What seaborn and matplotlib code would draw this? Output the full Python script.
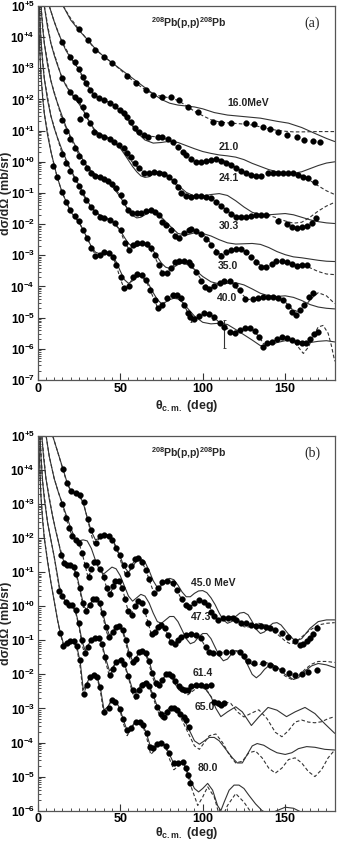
import numpy as np
import matplotlib
matplotlib.use("Agg")
import matplotlib.pyplot as plt
import matplotlib.ticker as mticker
import seaborn as sns

# all cross sections are given as log10(dsigma/dOmega [mb/sr]) incl. the offsets

# ---------------- panel (a) ----------------
a16_dat_x = [24.8, 30.2, 34.9, 40.0, 45.1, 54.3, 59.3, 65.4, 70.1, 75.6, 80.7, 85.7, 90.9, 97.0,
             106.1, 111.2, 117.3, 126.4, 131.3, 136.6, 140.6, 145.7, 150.8, 156.9, 161.6, 167.1, 171.1]
a16_dat_y = [4.25, 3.91, 3.59, 3.37, 3.18, 2.75, 2.52, 2.31, 2.14, 2.09, 2.07, 1.98, 1.77, 1.61,
             1.29, 1.26, 1.24, 1.24, 1.21, 1.13, 1.04, 0.97, 0.86, 0.79, 0.70, 0.68, 0.65]
a16_sol_x = [15.4, 20, 25, 30, 35, 40, 45, 50, 55, 60, 65, 70, 75, 80, 85, 90, 95, 100, 107, 115,
             125, 135, 145, 152, 160, 168, 175, 180]
a16_sol_y = [5.0, 4.55, 4.22, 3.93, 3.62, 3.38, 3.18, 2.98, 2.78, 2.58, 2.38, 2.18, 2.0, 1.88, 1.82,
             1.79, 1.76, 1.70, 1.58, 1.50, 1.45, 1.40, 1.30, 1.24, 1.10, 0.91, 0.75, 0.65]
a16_das_x = [15.4, 20, 25, 30, 35, 40, 45, 50, 55, 60, 65, 70, 75, 80, 85, 90, 95, 100, 105, 110,
             115, 120, 125, 130, 135, 140, 145, 150, 155, 160, 170, 180]
a16_das_y = [5.0, 4.6, 4.25, 3.92, 3.60, 3.38, 3.18, 2.96, 2.72, 2.50, 2.32, 2.17, 2.10, 2.05, 1.97,
             1.80, 1.62, 1.48, 1.35, 1.28, 1.25, 1.23, 1.21, 1.18, 1.12, 1.06, 1.01, 0.98, 0.96,
             0.96, 0.97, 0.97]

a21_dat_x = [14.6, 19.7, 22.3, 24.8, 27.4, 29.5, 31.5, 34.3, 37.0, 40.4, 44.1, 47.1, 49.8, 52.2,
             54.3, 56.3, 58.7, 61.3, 64.4, 66.8, 72.9, 75.6, 78.7, 81.7, 84.8, 87.8, 89.8, 92.9,
             95.9, 99.0, 102.0, 105.1, 108.1, 111.2, 114.2, 117.3, 120.3, 123.4, 126.4, 129.5,
             132.5, 135.6, 139.6, 142.7, 145.7, 148.8, 151.8, 154.9, 157.9, 161.0, 164.0, 168.0]
a21_dat_y = [3.86, 3.37, 3.21, 2.97, 2.73, 2.54, 2.31, 2.14, 2.04, 1.98, 1.88, 1.79, 1.66, 1.56,
             1.43, 1.29, 1.08, 0.97, 0.86, 0.81, 0.81, 0.79, 0.72, 0.65, 0.49, 0.33, 0.22, 0.08,
             0.0, 0.0, 0.04, 0.06, 0.08, 0.04, -0.03, -0.10, -0.21, -0.28, -0.35, -0.42,
             -0.45, -0.44, -0.35, -0.37, -0.37, -0.35, -0.35, -0.37, -0.42, -0.48, -0.53, -0.64]
a21_sol_x = [7, 10, 12, 14.6, 17, 20, 22.5, 25, 27.5, 30, 32.5, 35, 37.5, 40, 42.5, 45, 47.5, 50,
             52.5, 55, 57.5, 60, 65, 70, 75, 80, 85, 90, 95, 100, 105, 110, 115, 120, 125, 130,
             135, 140, 145, 150, 155, 160, 165, 170, 175, 180]
a21_sol_y = [5.0, 4.5, 4.2, 3.87, 3.58, 3.33, 3.16, 2.96, 2.72, 2.48, 2.26, 2.12, 2.04, 1.98, 1.93,
             1.86, 1.76, 1.62, 1.47, 1.32, 1.14, 0.95, 0.70, 0.60, 0.62, 0.66, 0.62, 0.52, 0.42,
             0.33, 0.27, 0.22, 0.19, 0.15, 0.07, -0.05, -0.15, -0.25, -0.32, -0.36, -0.37, -0.32,
             -0.22, -0.12, -0.04, 0.0]
a21_das_x = [7, 10, 14.6, 20, 25, 30, 35, 40, 45, 50, 55, 60, 65, 70, 75, 80, 85, 90, 95, 100, 105,
             110, 115, 120, 125, 130, 135, 140, 145, 150, 155, 160, 165, 170, 175, 180]
a21_das_y = [5.0, 4.5, 3.86, 3.35, 2.95, 2.4, 2.1, 1.98, 1.86, 1.64, 1.38, 0.98, 0.84, 0.81, 0.79,
             0.68, 0.45, 0.20, 0.03, 0.0, 0.05, 0.07, 0.0, -0.18, -0.33, -0.42, -0.44, -0.40,
             -0.37, -0.36, -0.38, -0.45, -0.60, -0.77, -0.93, -1.05]

a24_dat_x = [14.6, 19.7, 22.3, 24.8, 25.8, 27.4, 29.5, 31.9, 34.3, 37.0, 40.4, 43.7, 46.5, 49.1,
             52.2, 54.3, 56.3, 58.7, 61.3, 64.4, 67.4, 70.5, 73.5, 76.6, 79.6, 82.7, 84.8, 86.8,
             89.8, 92.9, 96.0, 99.0, 102.0, 105.1, 108.1, 111.2, 114.2, 117.3, 120.3, 123.4,
             126.4, 129.5, 132.5, 135.6, 138.6, 145.7, 150.8, 153.9, 156.9, 160.0, 163.0, 166.1, 168.5]
a24_dat_y = [2.68, 2.25, 2.09, 1.98, 1.37, 1.75, 1.50, 1.24, 0.97, 0.86, 0.81, 0.72, 0.65, 0.54,
             0.43, 0.27, 0.15, -0.05, -0.21, -0.35, -0.35, -0.33, -0.35, -0.39, -0.48, -0.62, -0.82,
             -1.0, -1.10, -1.12, -1.10, -1.10, -1.12, -1.17, -1.28, -1.42, -1.55, -1.67, -1.76,
             -1.78, -1.76, -1.74, -1.71, -1.71, -1.71, -1.90, -2.0, -2.10, -2.11, -2.10, -2.06,
             -1.95, -1.81]
a24_sol_x = [4, 6, 8, 10, 12, 14.6, 17, 20, 22.5, 25, 27.5, 30, 32.5, 35, 37.5, 40, 42.5, 45, 47.5,
             50, 52.5, 55, 57.5, 60, 62.5, 65, 67.5, 70, 72.5, 75, 77.5, 80, 85, 90, 95, 100, 105,
             110, 115, 120, 125, 130, 135, 140, 145, 150, 155, 160, 165, 170, 175, 180]
a24_sol_y = [5.0, 4.3, 3.8, 3.42, 3.1, 2.72, 2.45, 2.2, 2.03, 1.86, 1.66, 1.42, 1.18, 1.0, 0.9,
             0.84, 0.78, 0.70, 0.58, 0.44, 0.25, 0.05, -0.15, -0.32, -0.45, -0.50, -0.48, -0.40,
             -0.33, -0.32, -0.38, -0.50, -0.75, -0.98, -1.10, -1.10, -1.05, -1.02, -1.08, -1.25,
             -1.45, -1.62, -1.70, -1.70, -1.68, -1.66, -1.70, -1.78, -1.86, -1.92, -1.96, -1.98]
a24_das_x = [4, 8, 14.6, 20, 25, 30, 35, 40, 45, 50, 55, 60, 65, 70, 75, 80, 85, 90, 95, 100, 105,
             110, 115, 120, 125, 130, 135, 140, 145, 150, 155, 160, 165, 170, 175, 180]
a24_das_y = [5.0, 3.8, 2.7, 2.22, 1.95, 1.4, 0.95, 0.82, 0.68, 0.46, 0.12, -0.15, -0.36, -0.34,
             -0.36, -0.5, -0.82, -1.06, -1.1, -1.1, -1.14, -1.35, -1.58, -1.74, -1.77, -1.73,
             -1.70, -1.72, -1.80, -1.90, -1.97, -1.94, -1.78, -1.58, -1.42, -1.30]

a30_dat_x = [14.6, 17.3, 19.7, 22.3, 24.8, 27.4, 29.9, 32.3, 34.9, 37.6, 40.0, 42.5, 45.0, 47.5,
             50.2, 52.2, 54.6, 57.3, 59.9, 62.4, 65.4, 68.5, 70.9, 73.6, 75.6, 77.6, 80.7, 83.1,
             85.7, 88.8, 91.8, 92.9, 96.0, 99.0, 102.0, 105.1, 108.1, 111.2, 114.2, 117.3, 120.3,
             123.4, 126.4, 129.5, 132.5, 135.6, 138.6, 141.7, 144.7, 147.8, 150.8, 153.9, 156.9,
             160.0, 163.0]
a30_dat_y = [1.35, 1.0, 0.72, 0.45, 0.2, -0.02, -0.2, -0.35, -0.45, -0.5, -0.55, -0.62, -0.72,
             -0.85, -1.06, -1.28, -1.55, -1.63, -1.65, -1.63, -1.57, -1.55, -1.60, -1.71, -1.92,
             -2.03, -2.19, -2.38, -2.43, -2.30, -2.20, -2.17, -2.21, -2.32, -2.49, -2.67, -2.88,
             -3.02, -2.91, -2.83, -2.79, -2.81, -2.91, -3.07, -3.23, -3.38, -3.36, -3.28, -3.19,
             -3.18, -3.21, -3.28, -3.33, -3.32, -3.31]
a30_sol_x = [2, 3, 4, 6, 8, 10, 12, 14.6, 17, 20, 22.5, 25, 27.5, 30, 32.5, 35, 37.5, 40, 42.5, 45,
             47.5, 50, 52.5, 55, 57.5, 60, 62.5, 65, 67.5, 70, 72.5, 75, 80, 85, 90, 95, 100, 105,
             110, 115, 120, 125, 130, 135, 140, 145, 150, 155, 160, 165, 170, 175, 180]
a30_sol_y = [5.0, 4.3, 3.8, 3.1, 2.6, 2.2, 1.88, 1.5, 1.15, 0.8, 0.55, 0.3, 0.05, -0.15, -0.3, -0.4,
             -0.47, -0.55, -0.65, -0.78, -0.95, -1.12, -1.35, -1.55, -1.72, -1.80, -1.78, -1.70,
             -1.62, -1.60, -1.65, -1.78, -2.05, -2.3, -2.35, -2.28, -2.30, -2.38, -2.5, -2.6, -2.64,
             -2.63, -2.62, -2.65, -2.75, -2.88, -2.98, -3.05, -3.08, -3.12, -3.16, -3.19, -3.2]
a30_das_x = [2, 4, 8, 14.6, 20, 25, 30, 35, 40, 45, 50, 55, 60, 65, 70, 75, 80, 85, 90, 95, 100,
             105, 110, 115, 120, 125, 130, 135, 140, 145, 150, 155, 160, 165, 170, 175, 180]
a30_das_y = [5.0, 3.8, 2.6, 1.4, 0.75, 0.22, -0.2, -0.45, -0.55, -0.72, -1.08, -1.58, -1.66, -1.6,
             -1.56, -1.8, -2.18, -2.42, -2.28, -2.2, -2.3, -2.62, -2.95, -2.92, -2.8, -2.85, -3.05,
             -3.32, -3.35, -3.22, -3.2, -3.28, -3.3, -3.4, -3.52, -3.6, -3.62]

a35_dat_x = [14.6, 17.3, 19.7, 22.3, 24.8, 26.8, 29.4, 32.3, 34.9, 38.0, 40.4, 44.1, 47.1, 50.2,
             52.8, 55.3, 57.9, 60.3, 63.4, 66.0, 68.5, 70.9, 73.6, 75.6, 78.2, 80.7, 83.1, 85.7,
             88.8, 91.8, 92.9, 96.0, 99.0, 101.4, 104.1, 107.1, 110.2, 113.2, 116.3, 119.3, 122.4,
             125.4, 130.5, 133.5, 136.6, 139.6, 142.7, 145.7, 148.8, 151.4, 153.9, 156.3, 159.0,
             161.6, 164.4, 167.1]
a35_dat_y = [0.25, -0.05, -0.3, -0.55, -0.78, -0.96, -1.22, -1.44, -1.60, -1.76, -1.81, -1.87,
             -1.97, -2.19, -2.61, -2.83, -2.67, -2.61, -2.59, -2.65, -2.78, -2.99, -3.31, -3.56,
             -3.56, -3.42, -3.23, -3.17, -3.17, -3.23, -3.31, -3.52, -3.81, -4.03, -4.09, -4.0,
             -3.90, -3.81, -3.84, -3.95, -4.11, -4.41, -4.41, -4.38, -4.35, -4.35, -4.35, -4.38,
             -4.45, -4.63, -4.81, -4.91, -4.77, -4.59, -4.33, -4.20]
a35_sol_x = [1.05, 1.5, 2, 3, 4, 6, 8, 10, 12, 14.6, 17, 20, 22.5, 25, 27.5, 30, 32.5, 35, 37.5,
             40, 42.5, 45, 47.5, 50, 52.5, 55, 57.5, 60, 62.5, 65, 67.5, 70, 72.5, 75, 77.5, 80,
             82.5, 85, 87.5, 90, 95, 100, 105, 110, 115, 120, 125, 130, 135, 140, 145, 150, 155,
             160, 165, 170, 175, 180]
a35_sol_y = [5.0, 4.38, 3.88, 3.17, 2.67, 1.97, 1.47, 1.08, 0.77, 0.4, 0.1, -0.25, -0.5, -0.75,
             -1.0, -1.25, -1.45, -1.6, -1.7, -1.76, -1.82, -1.9, -2.02, -2.2, -2.42, -2.62, -2.72,
             -2.72, -2.66, -2.64, -2.7, -2.85, -3.05, -3.25, -3.38, -3.42, -3.38, -3.3, -3.25,
             -3.28, -3.45, -3.68, -3.85, -3.92, -3.9, -3.88, -3.95, -4.08, -4.22, -4.3, -4.32,
             -4.3, -4.35, -4.45, -4.58, -4.66, -4.7, -4.72]
a35_das_x = [1.05, 2, 4, 8, 14.6, 20, 25, 30, 35, 40, 45, 50, 52.5, 55, 57.5, 60, 65, 70, 75, 77.5,
             80, 85, 90, 95, 100, 104, 108, 113, 118, 123, 127, 132, 137, 142, 146, 150, 154, 158,
             162, 166, 170, 175, 180]
a35_das_y = [5.0, 3.88, 2.67, 1.47, 0.3, -0.28, -0.8, -1.3, -1.62, -1.8, -1.9, -2.2, -2.55, -2.78,
             -2.72, -2.62, -2.62, -2.95, -3.5, -3.6, -3.45, -3.18, -3.18, -3.45, -3.85, -4.06,
             -3.98, -3.82, -3.9, -4.2, -4.42, -4.4, -4.36, -4.35, -4.38, -4.5, -4.72, -4.82, -4.62,
             -4.38, -4.2, -4.3, -4.55]

a40_dat_x = [9.5, 11.6, 14.6, 17.3, 19.7, 22.3, 24.8, 27.4, 29.9, 32.3, 34.9, 37.6, 40.0, 43.1,
             45.7, 47.7, 50.2, 52.6, 55.3, 57.9, 60.3, 63.0, 65.4, 68.1, 70.9, 72.9, 75.6, 78.6,
             81.7, 84.7, 86.8, 88.4, 90.8, 92.5, 94.9, 98.0, 101.0, 104.1, 107.1, 110.2, 113.2,
             116.3, 119.3, 122.4, 125.4, 128.5, 131.5, 134.0, 136.6, 139.2, 142.1, 145.1, 147.8,
             150.8, 153.9, 156.9, 160.0, 162.4, 165.1, 167.7, 170.1]
a40_dat_y = [-0.12, -0.48, -0.96, -1.28, -1.55, -1.74, -1.89, -2.19, -2.45, -2.78, -3.02, -2.99,
             -2.91, -2.94, -3.04, -3.31, -3.71, -4.06, -4.0, -3.71, -3.6, -3.63, -3.79, -4.11,
             -4.43, -4.70, -4.59, -4.38, -4.27, -4.27, -4.38, -4.59, -4.84, -4.98, -5.05, -4.95,
             -4.86, -4.88, -4.99, -5.16, -5.31, -5.45, -5.48, -5.40, -5.34, -5.34, -5.42, -5.61,
             -5.95, -5.82, -5.77, -5.70, -5.63, -5.65, -5.72, -5.78, -5.82, -5.80, -5.70, -5.52,
             -5.46]
a40_sol_x = [0.55, 0.8, 1, 1.5, 2, 3, 4, 6, 8, 9.5, 11.6, 14.6, 17, 20, 22.5, 25, 27.5, 30, 32.5,
             35, 37.5, 40, 42.5, 45, 47.5, 50, 52.5, 55, 57.5, 60, 62.5, 65, 67.5, 70, 72.5, 75,
             77.5, 80, 82.5, 85, 87.5, 90, 95, 100, 105, 110, 115, 120, 125, 130, 135, 140, 145,
             150, 155, 160, 165, 170, 175, 180]
a40_sol_y = [5.0, 4.35, 3.95, 3.25, 2.75, 2.05, 1.55, 0.85, 0.33, 0.0, -0.45, -0.95, -1.25, -1.6,
             -1.78, -1.95, -2.18, -2.45, -2.72, -2.9, -2.95, -2.92, -2.92, -3.0, -3.2, -3.5, -3.78,
             -3.9, -3.82, -3.7, -3.67, -3.75, -3.95, -4.2, -4.42, -4.55, -4.5, -4.42, -4.38, -4.4,
             -4.5, -4.65, -4.95, -5.15, -5.2, -5.18, -5.22, -5.38, -5.55, -5.72, -5.9, -5.88,
             -5.8, -5.74, -5.74, -5.78, -5.8, -5.76, -5.74, -5.78]
a40_das_x = [0.55, 1, 2, 4, 8, 11.6, 14.6, 20, 25, 30, 35, 37.5, 40, 45, 47.5, 50, 52.5, 55, 58,
             62, 66, 70, 73, 76, 80, 84, 87, 91, 95, 98, 102, 106, 110, 114, 118, 122, 126, 130,
             134, 137, 140, 145, 150, 155, 158, 161, 164, 167, 170, 173, 176, 178, 180]
a40_das_y = [5.0, 3.95, 2.75, 1.55, 0.33, -0.45, -0.96, -1.6, -1.92, -2.45, -3.0, -3.02, -2.92,
             -3.0, -3.3, -3.75, -4.08, -3.98, -3.68, -3.65, -3.85, -4.35, -4.72, -4.6, -4.32,
             -4.25, -4.38, -4.85, -5.05, -4.95, -4.85, -4.95, -5.15, -5.32, -5.45, -5.42, -5.35,
             -5.38, -5.6, -5.85, -5.82, -5.7, -5.65, -5.75, -5.95, -6.15, -5.95, -5.6, -5.3,
             -5.25, -5.5, -5.9, -6.4]
a40_err_x = [92.9, 106.1, 113.2]
a40_err_lo = [-5.13, -5.07, -5.98]
a40_err_hi = [-4.88, -4.91, -5.07]

# ---------------- panel (b) ----------------
b45_dat_x = [15.2, 17.7, 20.1, 23.0, 25.4, 27.8, 30.3, 32.5, 35.1, 38.0, 40.4, 43.1, 45.3, 47.3,
             49.8, 52.2, 54.2, 56.7, 58.7, 60.7, 63.4, 65.4, 67.5, 70.5, 73.0, 75.6, 78.6, 81.7,
             84.7, 87.5, 89.8, 91.9, 94.9, 98.0, 101.0, 103.0, 105.1, 107.1, 109.2, 112.2, 115.3,
             118.3, 120.3, 123.4, 126.5, 129.5, 132.5, 135.6, 138.6, 141.0, 143.7, 147.8, 151.8,
             155.9, 159.0, 161.0, 163.0, 165.0, 167.0, 169.0]
b45_dat_y = [4.02, 3.63, 3.37, 3.33, 3.28, 3.05, 2.55, 2.25, 1.85, 2.06, 2.10, 2.06, 1.95, 1.72,
             1.50, 1.22, 0.95, 1.18, 1.40, 1.41, 1.30, 1.07, 0.80, 0.40, 0.55, 0.72, 0.75, 0.68,
             0.48, 0.20, 0.04, -0.01, 0.09, 0.17, 0.14, 0.04, -0.16, -0.30, -0.40, -0.35, -0.35,
             -0.35, -0.40, -0.48, -0.50, -0.55, -0.57, -0.58, -0.60, -0.65, -0.71, -0.79, -0.89,
             -1.01, -1.14, -1.11, -1.03, -0.94, -0.80, -0.65]
b45_sol_x = [9.1, 12, 15.2, 17.7, 20, 22.5, 25, 27.5, 30, 32.5, 35, 37.5, 40, 42.5, 45, 47.5, 50,
             52.5, 55, 57.5, 60, 62.5, 65, 67.5, 70, 72.5, 75, 77.5, 80, 82.5, 85, 87.5, 90, 92.5,
             95, 97.5, 100, 102.5, 105, 107.5, 110, 112.5, 115, 117.5, 120, 122.5, 125, 127.5,
             130, 132.5, 135, 137.5, 140, 142.5, 145, 147.5, 150, 152.5, 155, 157.5, 160, 162.5,
             165, 170, 175, 180]
b45_sol_y = [5.0, 4.55, 4.05, 3.65, 3.4, 3.3, 3.25, 3.05, 2.6, 2.2, 1.95, 2.0, 2.1, 2.1, 2.0, 1.75,
             1.45, 1.15, 1.0, 1.15, 1.35, 1.4, 1.3, 1.05, 0.75, 0.55, 0.6, 0.75, 0.82, 0.78, 0.62,
             0.42, 0.28, 0.28, 0.38, 0.45, 0.46, 0.4, 0.25, 0.05, -0.2, -0.4, -0.5, -0.45, -0.3,
             -0.2, -0.18, -0.25, -0.45, -0.68, -0.8, -0.75, -0.6, -0.5, -0.48, -0.55, -0.7,
             -0.85, -0.97, -1.0, -0.95, -0.8, -0.65, -0.45, -0.4, -0.4]
b45_das_x = [9.1, 12, 15.2, 17.7, 20, 22.5, 25, 27.5, 30, 32.5, 34.5, 36, 38, 40.5, 43, 45.5, 48,
             50.5, 53, 54.5, 56.5, 59, 61, 63.5, 66, 68.5, 70.5, 72.5, 75, 78, 81, 84, 87, 89.5,
             92, 95, 98, 101, 104, 107, 109.5, 112, 116, 119, 122, 125, 127, 130, 134, 138, 142,
             146, 150, 153, 156, 160, 165, 170, 175, 180]
b45_das_y = [5.0, 4.55, 4.03, 3.63, 3.38, 3.32, 3.28, 3.08, 2.6, 2.1, 1.78, 1.9, 2.05, 2.1, 2.06,
             1.93, 1.65, 1.3, 0.95, 0.9, 1.15, 1.38, 1.4, 1.28, 1.0, 0.65, 0.38, 0.45, 0.68, 0.76,
             0.7, 0.5, 0.22, 0.02, -0.02, 0.08, 0.16, 0.14, 0.0, -0.3, -0.42, -0.38, -0.3, -0.3,
             -0.42, -0.6, -0.62, -0.56, -0.5, -0.55, -0.68, -0.85, -1.02, -1.1, -1.07, -0.9,
             -0.7, -0.55, -0.5, -0.48]

b47_dat_x = [15, 17, 19, 21, 23, 25, 27, 29, 31, 32.5, 34, 36, 38, 40, 42, 44, 45.5, 47, 49, 51,
             53, 55, 57, 59, 61, 63, 65, 67, 69, 71, 73, 75, 77, 79, 81, 83, 85, 87, 89.8, 92.9,
             96, 99, 102, 104, 106.1, 110, 114, 118, 122.4, 125, 127.5, 131, 136.6, 141, 144,
             147.8, 152, 155.9, 160, 164, 169]
b47_dat_y = [3.0, 2.6, 2.3, 2.05, 1.95, 1.85, 1.55, 1.2, 0.85, 1.1, 1.3, 1.3, 1.1, 0.85, 0.55,
             0.35, 0.6, 0.75, 0.75, 0.55, 0.2, -0.15, -0.25, 0.0, 0.15, 0.1, -0.15, -0.5, -0.8,
             -0.75, -0.6, -0.55, -0.65, -0.85, -1.05, -1.1, -1.0, -0.9, -0.85, -0.8, -0.84,
             -0.94, -1.2, -1.35, -1.38, -1.36, -1.34, -1.33, -1.33, -1.45, -1.6, -1.66, -1.67,
             -1.72, -1.8, -1.87, -1.96, -2.02, -1.98, -1.93, -1.87]
b47_sol_x = [5.1, 7, 10, 12.5, 15, 17.5, 20, 22.5, 25, 27.5, 30, 32.5, 35, 37.5, 40, 42.5, 45,
             47.5, 50, 52.5, 55, 57.5, 60, 62.5, 65, 67.5, 70, 72.5, 75, 77.5, 80, 82.5, 85, 87.5,
             90, 92.5, 95, 97.5, 100, 102.5, 105, 107.5, 110, 112.5, 115, 117.5, 120, 122.5, 125,
             127.5, 130, 132.5, 135, 137.5, 140, 142.5, 145, 150, 155, 158, 162, 166, 170, 175, 180]
b47_sol_y = [5.0, 4.4, 3.75, 3.35, 3.0, 2.65, 2.3, 2.0, 1.92, 1.95, 1.92, 1.7, 1.35, 1.05, 0.95,
             1.05, 1.15, 1.1, 0.9, 0.6, 0.3, 0.15, 0.25, 0.35, 0.3, 0.1, -0.2, -0.45, -0.5, -0.4,
             -0.3, -0.3, -0.45, -0.7, -0.95, -1.1, -1.05, -0.9, -0.8, -0.8, -0.95, -1.2, -1.45,
             -1.6, -1.55, -1.4, -1.3, -1.32, -1.5, -1.75, -2.0, -2.1, -2.0, -1.85, -1.75, -1.72,
             -1.78, -2.0, -2.15, -2.1, -1.9, -1.75, -1.68, -1.72, -1.8]
b47_das_x = [5.1, 7, 10, 12.5, 15, 17, 19, 21, 23, 25, 27, 29, 30.5, 32.5, 34.5, 36, 38, 40, 42,
             43.5, 45.5, 47.5, 49.5, 51.5, 53.5, 55.5, 57, 59, 61, 63, 65, 67, 69, 71, 73, 75, 77,
             79, 81, 83, 85, 88, 91, 94, 97, 100, 103, 106, 110, 114, 118, 122, 126, 130, 134,
             138, 142, 146, 150, 154, 158, 162, 166, 170, 175, 180]
b47_das_y = [5.0, 4.4, 3.75, 3.35, 3.0, 2.62, 2.3, 2.05, 1.95, 1.85, 1.55, 1.15, 0.85, 1.05, 1.28,
             1.3, 1.12, 0.85, 0.5, 0.3, 0.55, 0.75, 0.72, 0.5, 0.1, -0.25, -0.2, 0.02, 0.12, 0.08,
             -0.15, -0.5, -0.85, -0.8, -0.6, -0.55, -0.65, -0.85, -1.1, -1.15, -1.0, -0.88, -0.8,
             -0.8, -0.88, -1.05, -1.3, -1.4, -1.38, -1.32, -1.3, -1.35, -1.55, -1.72, -1.72,
             -1.65, -1.7, -1.85, -2.05, -2.15, -2.05, -1.85, -1.7, -1.62, -1.62, -1.65]

b61_dat_x = [14, 16, 18, 19.7, 21.7, 23.5, 25.5, 27.5, 29.5, 31.5, 33.5, 35.5, 37.5, 39.5, 41.5,
             43.5, 45.5, 47.5, 49.5, 51.5, 53.5, 55.5, 57.5, 59.5, 61.5, 63.5, 65.5, 67.5, 69.5,
             71.5, 73.5, 75.5, 77.5, 79.5, 81.5, 83.5, 85.5, 87.5, 89.5, 90.9, 92.9, 96.0, 99.0,
             102.0, 105.1, 107.1, 109.2, 111.2, 113.2]
b61_dat_y = [1.5, 1.28, 1.2, 1.2, 1.16, 0.95, 0.55, 0.1, -0.15, 0.05, 0.2, 0.22, 0.1, -0.2, -0.6,
             -0.9, -0.75, -0.6, -0.58, -0.7, -1.0, -1.4, -1.65, -1.55, -1.35, -1.3, -1.38, -1.6,
             -1.95, -2.25, -2.3, -2.15, -2.0, -1.98, -2.05, -2.2, -2.35, -2.42, -2.46, -2.46,
             -2.34, -2.31, -2.31, -2.34, -2.31, -2.8, -2.85, -2.9, -2.85]
b61_sol_x = [2.5, 3.5, 5, 7, 9, 11, 13, 14, 16, 18, 20, 22, 24, 26, 28, 29.5, 31.5, 33.5, 35.5,
             37.5, 39.5, 41.5, 43.5, 45.5, 47.5, 49.5, 51.5, 53.5, 55.5, 57.5, 59.5, 61.5, 63.5,
             65.5, 67.5, 69.5, 71.5, 73.5, 75.5, 77.5, 79.5, 81.5, 83.5, 85.5, 87.5, 90, 93, 96,
             99, 102, 105, 108, 111, 115, 120, 124, 129.5, 134, 139.6, 145, 150.8, 156, 162, 168,
             174, 180]
b61_sol_y = [5.0, 4.4, 3.75, 3.15, 2.65, 2.2, 1.8, 1.55, 1.3, 1.2, 1.2, 1.12, 0.85, 0.42, 0.0,
             -0.1, 0.05, 0.18, 0.2, 0.08, -0.22, -0.6, -0.85, -0.75, -0.6, -0.58, -0.7, -1.0,
             -1.38, -1.6, -1.52, -1.35, -1.3, -1.38, -1.6, -1.95, -2.22, -2.28, -2.15, -2.02,
             -1.98, -2.05, -2.2, -2.35, -2.42, -2.5, -2.42, -2.35, -2.35, -2.45, -2.65, -3.0,
             -3.24, -3.1, -2.95, -3.1, -3.5, -3.25, -2.97, -3.05, -3.24, -3.1, -2.97, -3.15,
             -3.45, -3.73]
b61_das_x = [2.5, 5, 9, 13, 16, 18, 20, 22, 24, 26, 28, 29.5, 31.5, 33.5, 35.5, 37.5, 39.5, 41.5,
             43.5, 45.5, 47.5, 49.5, 51.5, 53.5, 55.5, 57.5, 59.5, 61.5, 63.5, 65.5, 67.5, 69.5,
             71.5, 73.5, 75.5, 77.5, 79.5, 81.5, 83.5, 85.5, 87.5, 91, 95, 99, 103, 107, 110,
             113, 117, 121, 125, 129, 134, 139, 144, 148, 152, 156, 160, 164, 168, 172, 176, 180]
b61_das_y = [5.0, 3.75, 2.65, 1.8, 1.3, 1.18, 1.22, 1.1, 0.8, 0.35, -0.1, -0.22, 0.02, 0.2, 0.22,
             0.05, -0.3, -0.72, -0.98, -0.78, -0.6, -0.6, -0.75, -1.1, -1.5, -1.75, -1.6, -1.38,
             -1.32, -1.42, -1.7, -2.05, -2.35, -2.38, -2.18, -2.02, -2.0, -2.1, -2.3, -2.45, -2.5,
             -2.6, -2.45, -2.35, -2.5, -2.8, -2.95, -2.8, -2.85, -3.1, -3.25, -3.15, -3.04, -3.3,
             -3.7, -3.83, -3.65, -3.4, -3.34, -3.4, -3.42, -3.39, -3.3, -3.24]

b65_dat_x = [13, 15, 17, 19, 21, 23, 25, 27, 28.8, 30.5, 32.5, 35, 37, 39, 41, 43.7, 45.5, 47.5,
             50.2, 52.5, 55, 57.5, 59.3, 61.5, 63.5, 65.4, 67.5, 70, 72.5, 74.5, 76.6, 78.5, 80.5,
             82.7, 84.5, 86.5, 88.5, 90, 91.8]
b65_dat_y = [0.45, 0.3, 0.12, 0.05, 0.05, -0.12, -0.5, -1.0, -1.38, -1.2, -1.0, -0.93, -0.94,
             -1.1, -1.5, -2.02, -1.85, -1.65, -1.58, -1.7, -2.05, -2.45, -2.63, -2.45, -2.3, -2.26,
             -2.35, -2.6, -2.95, -3.15, -3.24, -3.1, -3.0, -2.99, -3.05, -3.15, -3.25, -3.35,
             -3.53]
b65_sol_x = [1.4, 2, 3, 4, 6, 8, 10, 12, 13, 15, 17, 19, 21, 23, 25, 27, 28.8, 30.5, 32.5, 35, 37,
             39, 41, 43.5, 45.5, 47.5, 50, 52.5, 55, 57.5, 59.5, 61.5, 63.5, 65.5, 67.5, 70, 72.5,
             75, 77, 79, 81, 83, 86, 89, 92, 95, 98, 101, 104, 107, 110, 114, 118, 121, 124, 127,
             130, 133, 137, 141, 145, 150, 154, 158, 163, 168, 174, 180]
b65_sol_y = [5.0, 4.35, 3.65, 3.15, 2.45, 1.95, 1.45, 0.9, 0.6, 0.3, 0.12, 0.06, 0.04, -0.15,
             -0.55, -1.05, -1.3, -1.15, -0.98, -0.9, -0.92, -1.1, -1.5, -1.9, -1.8, -1.62, -1.55,
             -1.68, -2.05, -2.45, -2.55, -2.4, -2.25, -2.22, -2.33, -2.6, -2.95, -3.15, -3.15,
             -3.02, -2.95, -2.95, -3.1, -3.35, -3.65, -3.95, -4.05, -3.95, -3.85, -3.85, -3.95,
             -4.2, -4.45, -4.6, -4.6, -4.35, -4.1, -4.03, -4.08, -4.2, -4.3, -4.35, -4.3, -4.18,
             -4.12, -4.14, -4.2, -4.22]
b65_das_x = [1.4, 3, 6, 10, 13, 15, 17, 19, 21, 23, 25, 27, 28.8, 30.5, 32.5, 35, 37, 39, 41,
             43.7, 45.5, 47.5, 50, 52.5, 55, 57.5, 59.3, 61.5, 63.5, 65.5, 67.5, 70, 72.5, 75,
             77, 79, 81, 83, 86, 89, 92, 95, 98, 101, 104, 108, 112, 116, 120, 124, 128, 132, 136,
             140, 144, 148, 152, 156, 160, 164, 168, 172, 176, 180]
b65_das_y = [5.0, 3.65, 2.45, 1.45, 0.55, 0.3, 0.1, 0.03, 0.02, -0.18, -0.6, -1.15, -1.45, -1.2,
             -0.98, -0.9, -0.95, -1.15, -1.6, -2.1, -1.85, -1.62, -1.55, -1.72, -2.1, -2.55, -2.75,
             -2.45, -2.25, -2.22, -2.36, -2.68, -3.05, -3.3, -3.32, -3.08, -2.98, -2.98, -3.2,
             -3.5, -3.8, -4.1, -4.2, -4.0, -3.8, -3.75, -4.0, -4.35, -4.6, -4.55, -4.3, -4.25,
             -4.45, -4.75, -4.9, -4.75, -4.5, -4.45, -4.6, -4.85, -5.0, -4.8, -4.45, -4.22]

b80_dat_x = [13.6, 15.6, 17.7, 19.7, 21.7, 23.8, 25.8, 27.8, 29.9, 31.9, 33.9, 36.0, 38.0, 40.4,
             43.1, 45.1, 47.1, 49.8, 51.8, 54.2, 56.7, 59.3, 62.0, 64.0, 66.0, 68.1, 70.1, 72.5,
             75.0, 77.6, 79.6, 82.3, 85.1, 87.8, 89.8, 91.2, 92.5]
b80_dat_y = [-0.79, -1.17, -1.08, -1.01, -1.03, -1.17, -1.58, -2.57, -2.31, -2.07, -2.02, -2.07,
             -2.36, -3.09, -2.99, -2.75, -2.8, -3.02, -3.32, -3.63, -3.58, -3.39, -3.39, -3.48,
             -3.73, -4.12, -4.17, -4.04, -4.0, -4.1, -4.32, -4.61, -4.61, -4.56, -4.76, -4.95,
             -5.18]
b80_sol_x = [0.7, 1, 1.5, 2, 3, 4, 6, 8, 10, 12, 13.6, 15.6, 17.7, 19.7, 21.7, 23.8, 25.8, 27.6,
             29.5, 31.5, 33.8, 36, 38, 40.2, 42.5, 45, 47.2, 49.8, 52, 54.2, 56.7, 59.3, 62, 64, 66,
             68.5, 70.5, 72.5, 75, 77.6, 79.6, 82.5, 85, 87.8, 90, 92.5, 95, 97.5, 100, 103, 106,
             109, 111, 113, 116, 119, 122, 125, 128, 132, 136, 140, 145, 150, 155, 160, 166, 172,
             180]
b80_sol_y = [5.0, 4.4, 3.7, 3.2, 2.5, 2.0, 1.3, 0.7, 0.15, -0.4, -0.75, -1.1, -1.07, -1.0, -1.03,
             -1.2, -1.65, -2.45, -2.3, -2.08, -2.0, -2.08, -2.4, -3.05, -2.95, -2.73, -2.78, -3.0,
             -3.35, -3.65, -3.55, -3.38, -3.38, -3.5, -3.75, -4.15, -4.15, -4.03, -3.98, -4.1,
             -4.32, -4.62, -4.6, -4.55, -4.75, -5.1, -5.35, -5.45, -5.35, -5.2, -5.4, -5.85, -6.0,
             -5.75, -5.4, -5.25, -5.25, -5.35, -5.55, -5.8, -6.0, -6.1, -6.0, -5.9, -5.93, -6.05,
             -6.3, -6.5, -6.6]
b80_das_x = [0.7, 2, 4, 8, 12, 13.6, 15.6, 17.7, 19.7, 21.7, 23.8, 25.8, 27.6, 29.5, 31.5, 33.8,
             36, 38, 40.2, 42.5, 45, 47.2, 49.8, 52, 54.2, 56.7, 59.3, 62, 64, 66, 68.5, 70.5, 72.5,
             75, 77.6, 79.6, 82.5, 85, 87.8, 90, 93, 97, 100, 103, 107, 111, 115, 120, 125, 130,
             135, 140, 145, 150, 155, 160, 165, 170]
b80_das_y = [5.0, 3.2, 2.0, 0.7, -0.4, -0.78, -1.15, -1.07, -0.98, -1.03, -1.25, -1.8, -2.6,
             -2.35, -2.08, -1.98, -2.1, -2.5, -3.2, -3.0, -2.72, -2.78, -3.05, -3.45, -3.8, -3.6,
             -3.38, -3.38, -3.55, -3.85, -4.35, -4.25, -4.05, -3.98, -4.15, -4.45, -4.8, -4.7,
             -4.55, -4.8, -5.3, -5.85, -5.6, -5.3, -5.6, -6.3, -5.85, -5.5, -5.75, -6.1, -6.4,
             -6.5, -6.3, -6.2, -6.4, -6.6, -6.7, -6.6]

panel_a = [
    ("16.0MeV", a16_dat_x, a16_dat_y, a16_sol_x, a16_sol_y, a16_das_x, a16_das_y, 127.5, 1.73),
    ("21.0", a21_dat_x, a21_dat_y, a21_sol_x, a21_sol_y, a21_das_x, a21_das_y, 116, 0.32),
    ("24.1", a24_dat_x, a24_dat_y, a24_sol_x, a24_sol_y, a24_das_x, a24_das_y, 116, -0.69),
    ("30.3", a30_dat_x, a30_dat_y, a30_sol_x, a30_sol_y, a30_das_x, a30_das_y, 116, -2.21),
    ("35.0", a35_dat_x, a35_dat_y, a35_sol_x, a35_sol_y, a35_das_x, a35_das_y, 115, -3.50),
    ("40.0", a40_dat_x, a40_dat_y, a40_sol_x, a40_sol_y, a40_das_x, a40_das_y, 115, -4.52),
]
panel_b = [
    ("45.0 MeV", b45_dat_x, b45_dat_y, b45_sol_x, b45_sol_y, b45_das_x, b45_das_y, 106.5, 0.53),
    ("47.3", b47_dat_x, b47_dat_y, b47_sol_x, b47_sol_y, b47_das_x, b47_das_y, 99, -0.45),
    ("61.4", b61_dat_x, b61_dat_y, b61_sol_x, b61_sol_y, b61_das_x, b61_das_y, 100, -2.11),
    ("65.0", b65_dat_x, b65_dat_y, b65_sol_x, b65_sol_y, b65_das_x, b65_das_y, 101, -3.09),
    ("80.0", b80_dat_x, b80_dat_y, b80_sol_x, b80_sol_y, b80_das_x, b80_das_y, 103, -4.90),
]

sns.set_style("ticks")
plt.rcParams["font.family"] = ["Liberation Sans", "DejaVu Sans"]
plt.rcParams["mathtext.fontset"] = "custom"
plt.rcParams["mathtext.rm"] = "Liberation Sans:bold"
plt.rcParams["mathtext.bf"] = "Liberation Sans:bold"
plt.rcParams["mathtext.it"] = "Liberation Sans:bold"

fig = plt.figure(figsize=(3.37, 8.41), dpi=100)
ax_a = fig.add_axes([0.1119, 0.5482, 0.8813, 0.4447])
ax_b = fig.add_axes([0.1119, 0.0361, 0.8813, 0.4455])


def draw_panel(ax, series, ymin_exp, tag, xlab_y):
    for lab, dx, dy, sx, sy, ex, ey, lx, ly in series:
        sns.lineplot(x=sx, y=10.0 ** np.array(sy), ax=ax, color="#333333", lw=0.8,
                     sort=False, estimator=None)
        sns.lineplot(x=ex, y=10.0 ** np.array(ey), ax=ax, color="#333333", lw=0.8,
                     linestyle=(0, (3.2, 2.0)), sort=False, estimator=None)
        sns.scatterplot(x=dx, y=10.0 ** np.array(dy), ax=ax, color="black", s=17,
                        edgecolor="black", linewidth=0.3, zorder=5)
        ax.text(lx, 10.0 ** ly, lab, fontsize=7.5, fontweight="bold", ha="center",
                va="bottom", color="#222222")
    ax.set_yscale("log")
    ax.set_xlim(0, 180)
    ax.set_ylim(10.0 ** ymin_exp, 1e5)
    exps = list(range(ymin_exp, 6))
    ax.set_yticks([10.0 ** e for e in exps])
    ax.set_yticklabels([r"$\mathbf{10^{%s%d}}$" % ("+" if e >= 0 else "-", abs(e)) for e in exps],
                       fontsize=8.5)
    ax.yaxis.set_minor_locator(mticker.LogLocator(base=10, subs=np.arange(2, 10), numticks=20))
    ax.yaxis.set_minor_formatter(mticker.NullFormatter())
    ax.set_xticks([0, 50, 100, 150])
    ax.set_xticklabels(["0", "50", "100", "150"], fontsize=9, fontweight="bold")
    ax.xaxis.set_minor_locator(mticker.MultipleLocator(5))
    ax.tick_params(axis="both", which="major", direction="in", length=5, width=0.8,
                   colors="#333333", labelcolor="black", pad=2)
    ax.tick_params(axis="both", which="minor", direction="in", length=2.5, width=0.6,
                   colors="#333333")
    ax.tick_params(top=False, right=False)
    for sp in ax.spines.values():
        sp.set_visible(True)
        sp.set_color("#555555")
        sp.set_linewidth(0.9)
    ax.set_xlabel(r"θ$_{\mathbf{c.m.}}$ (deg)", fontsize=9, fontweight="bold")
    ax.xaxis.set_label_coords(0.5, xlab_y)
    ax.set_ylabel("dσ/dΩ (mb/sr)", fontsize=9, fontweight="bold")
    ax.yaxis.set_label_coords(-0.088, 0.5)
    ax.text(0.51, 0.955, r"$^{208}$Pb(p,p)$^{208}$Pb", transform=ax.transAxes, fontsize=7.5,
            fontweight="bold", ha="center", va="center")
    ax.text(0.925, 0.955, tag, transform=ax.transAxes, fontsize=10, ha="center", va="center",
            family="Liberation Serif")


draw_panel(ax_a, panel_a, -7, "(a)", -0.047)
ax_a.vlines(a40_err_x, 10.0 ** np.array(a40_err_lo), 10.0 ** np.array(a40_err_hi),
            color="#333333", lw=0.8)
ax_a.hlines(10.0 ** np.array(a40_err_lo + a40_err_hi), np.array(a40_err_x * 2) - 0.7,
            np.array(a40_err_x * 2) + 0.7, color="#333333", lw=0.6)
draw_panel(ax_b, panel_b, -6, "(b)", -0.038)

fig.savefig("out.png", dpi=100)
